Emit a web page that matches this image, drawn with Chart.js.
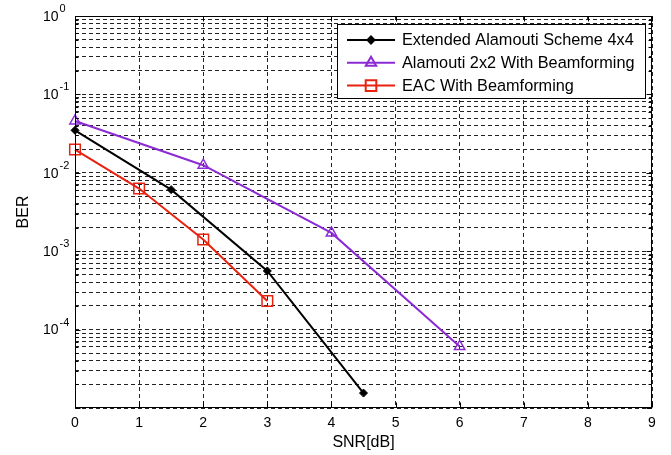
<!DOCTYPE html>
<html>
<head>
<meta charset="utf-8">
<script src="https://cdn.jsdelivr.net/npm/chart.js@4/dist/chart.umd.min.js"></script>
<style>
  html, body { margin: 0; padding: 0; background: #fff; }
  #wrap { width: 671px; height: 455px; position: relative; }
</style>
</head>
<body>
<div id="wrap"><canvas id="ber"></canvas></div>
<script>
// SNR (dB) / BER
const snrEac4 = [0, 1.5, 3, 4.5];
const berEac4 = [0.0348, 0.0061, 5.6e-4, 1.55e-5];

const snrAla2 = [0, 2, 4, 6];
const berAla2 = [0.0458, 0.0125, 1.71e-3, 6.1e-5];

const snrEacBf = [0, 1, 2, 3];
const berEacBf = [0.0198, 6.3e-3, 1.41e-3, 2.32e-4];

const seriesNames = [
  "Extended Alamouti Scheme 4x4",
  "Alamouti 2x2 With Beamforming",
  "EAC With Beamforming"
];

const xTicks = [0, 1, 2, 3, 4, 5, 6, 7, 8, 9];
const yDecades = [-5, -4, -3, -2, -1, 0];
const yLabelDecades = [-4, -3, -2, -1, 0]; // matlab left 10^-5 off

const FONT = "'Liberation Sans', Arial, Helvetica, sans-serif";
Chart.defaults.font.family = FONT;
Chart.defaults.color = "#000";

function pts(xs, ys) {
  return xs.map((v, i) => ({ x: v, y: ys[i] }));
}

// every 1..9 step of each decade, like matlab's log grid
function logTicks() {
  const out = [];
  yDecades.forEach(e => {
    if (e === 0) { out.push({ value: 1 }); return; }
    for (let m = 1; m <= 9; m++) out.push({ value: m * Math.pow(10, e) });
  });
  return out;
}

const matlabAxes = {
  id: "matlabAxes",
  afterDatasetsDraw(chart) {
    const { ctx, chartArea: a, scales } = chart;
    const x = scales.x, y = scales.y;
    const L = Math.round(a.left) + 0.5, R = Math.round(a.right) - 0.5;
    const T = Math.round(a.top) + 0.5, B = Math.round(a.bottom) - 0.5;

    ctx.save();
    ctx.strokeStyle = "#000";
    ctx.lineWidth = 1;
    ctx.setLineDash([]);
    ctx.beginPath();
    xTicks.forEach(v => {
      const px = Math.round(x.getPixelForValue(v)) + 0.5;
      ctx.moveTo(px, B); ctx.lineTo(px, B - 5);
      ctx.moveTo(px, T); ctx.lineTo(px, T + 5);
    });
    logTicks().forEach(t => {
      const py = Math.round(y.getPixelForValue(t.value)) + 0.5;
      const major = Math.abs(Math.log10(t.value) % 1) < 1e-9;
      const len = major ? 5 : 3;
      ctx.moveTo(L, py); ctx.lineTo(L + len, py);
      ctx.moveTo(R, py); ctx.lineTo(R - len, py);
    });
    ctx.stroke();
    ctx.strokeRect(L, T, R - L, B - T);

    // y labels: 10 with superscript exponent
    ctx.fillStyle = "#000";
    yLabelDecades.forEach(e => {
      const py = y.getPixelForValue(Math.pow(10, e));
      ctx.font = "14px " + FONT;
      ctx.textAlign = "right";
      ctx.textBaseline = "middle";
      ctx.fillText("10", 58.5, py + 1);
      ctx.font = "11px " + FONT;
      ctx.textAlign = "left";
      ctx.fillText(String(e), 59.5, py - 7);
    });

    // legend box, top right inside the axes
    const bx = 337.5, by = 24.5, bw = 308, bh = 74;
    ctx.fillStyle = "#fff";
    ctx.fillRect(bx, by, bw, bh);
    ctx.strokeRect(bx, by, bw, bh);
    ctx.font = "16.3px " + FONT;
    ctx.textAlign = "left";
    ctx.textBaseline = "middle";
    chart.data.datasets.forEach((ds, i) => {
      const ly = 40 + i * 22.8;
      ctx.strokeStyle = ds.borderColor;
      ctx.lineWidth = 2;
      ctx.beginPath();
      ctx.moveTo(347, ly); ctx.lineTo(395, ly);
      ctx.stroke();
      ctx.fillStyle = ds.pointBackgroundColor;
      Chart.helpers.drawPoint(ctx, {
        pointStyle: ds.pointStyle,
        radius: i === 0 ? 3.5 : ds.pointRadius,
        rotation: 0,
        borderWidth: ds.pointBorderWidth
      }, 371, ly);
      ctx.fillStyle = "#000";
      ctx.fillText(ds.label, 402, ly + 1);
    });
    ctx.restore();
  }
};

new Chart(document.getElementById("ber"), {
  type: "line",
  data: {
    datasets: [
      {
        label: seriesNames[0],
        data: pts(snrEac4, berEac4),
        borderColor: "#000000",
        pointBackgroundColor: "#000000",
        pointBorderColor: "#000000",
        pointStyle: "rectRot",
        pointRadius: 4,
        pointBorderWidth: 1,
        borderWidth: 2,
        clip: false
      },
      {
        label: seriesNames[1],
        data: pts(snrAla2, berAla2),
        borderColor: "#8b2bd4",
        pointBackgroundColor: "rgba(0,0,0,0)",
        pointBorderColor: "#8b2bd4",
        pointStyle: "triangle",
        pointRadius: 6,
        pointBorderWidth: 1.5,
        borderWidth: 2,
        clip: false
      },
      {
        label: seriesNames[2],
        data: pts(snrEacBf, berEacBf),
        borderColor: "#e8220f",
        pointBackgroundColor: "rgba(0,0,0,0)",
        pointBorderColor: "#e8220f",
        pointStyle: "rect",
        pointRadius: 7.5,
        pointBorderWidth: 1.5,
        borderWidth: 2,
        clip: false
      }
    ]
  },
  options: {
    responsive: true,
    maintainAspectRatio: false,
    animation: false,
    devicePixelRatio: 1,
    layout: { padding: { top: 16, right: 19, left: 0, bottom: 0 } },
    plugins: { legend: { display: false }, tooltip: { enabled: false } },
    elements: { line: { tension: 0 } },
    scales: {
      x: {
        type: "linear",
        min: 0,
        max: 9,
        afterBuildTicks: s => { s.ticks = xTicks.map(v => ({ value: v })); },
        afterFit: s => { s.height = 47; },
        ticks: { font: { size: 14 }, padding: 7, color: "#000" },
        grid: { color: "#222", drawTicks: false, lineWidth: 1 },
        border: { display: false, dash: [4, 3] },
        title: {
          display: true,
          text: "SNR[dB]",
          font: { size: 16 },
          padding: { top: 0, bottom: 3 },
          color: "#000"
        }
      },
      y: {
        type: "logarithmic",
        min: 1e-5,
        max: 1,
        afterBuildTicks: s => { s.ticks = logTicks(); },
        afterFit: s => { s.width = 75; },
        ticks: { display: false },
        grid: { color: "#222", drawTicks: false, lineWidth: 1 },
        border: { display: false, dash: [4, 3] },
        title: {
          display: true,
          text: "BER",
          font: { size: 16 },
          padding: { top: 14, bottom: 0 },
          color: "#000"
        }
      }
    }
  },
  plugins: [matlabAxes]
});
</script>
</body>
</html>
